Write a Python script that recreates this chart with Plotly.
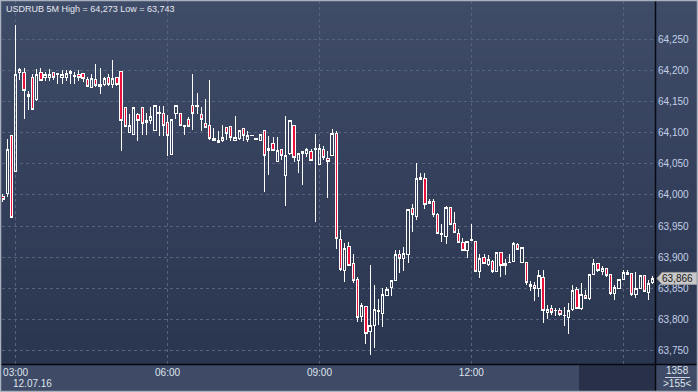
import pandas as pd
import plotly.graph_objects as go

# ---------------- data (USDRUB, 5-minute candles, 12.07.16) ----------------
start_time = "2016-07-12 02:45"
bar_minutes = 5

opens = [63.997, 64.003, 64.096, 64.037, 64.197, 64.197, 64.158, 64.189, 64.153, 64.197,
         64.188, 64.188, 64.197, 64.194, 64.188, 64.188, 64.199, 64.191, 64.194, 64.195,
         64.185, 64.172, 64.185, 64.174, 64.178, 64.189, 64.177, 64.189, 64.199, 64.141,
         64.101, 64.097, 64.130, 64.141, 64.116, 64.119, 64.103, 64.131, 64.131, 64.117,
         64.065, 64.131, 64.131, 64.110, 64.122, 64.143, 64.142, 64.130, 64.114, 64.111,
         64.087, 64.088, 64.087, 64.109, 64.110, 64.088, 64.091, 64.106, 64.089, 64.095,
         64.089, 64.087, 64.103, 64.072, 64.083, 64.053, 64.073, 64.031, 64.067, 64.111,
         64.055, 64.067, 64.067, 64.070, 64.073, 64.049, 64.073, 64.059, 64.063, 64.098,
         63.929, 63.878, 63.917, 63.890, 63.865, 63.805, 63.821, 63.780, 63.790, 63.813,
         63.810, 63.839, 63.851, 63.862, 63.905, 63.898, 63.905, 63.979, 63.965, 64.025,
         64.027, 63.987, 63.990, 63.969, 63.936, 63.934, 63.980, 63.955, 63.938, 63.924,
         63.911, 63.927, 63.926, 63.877, 63.900, 63.888, 63.893, 63.877, 63.908, 63.886,
         63.891, 63.893, 63.921, 63.891, 63.891, 63.853, 63.854, 63.850, 63.868, 63.812,
         63.818, 63.814, 63.815, 63.806, 63.804, 63.816, 63.849, 63.818, 63.839, 63.833,
         63.873, 63.890, 63.877, 63.882, 63.873, 63.842, 63.850, 63.864, 63.876, 63.874,
         63.841, 63.850, 63.870, 63.844, 63.859]
highs = [64.001, 64.090, 64.097, 64.273, 64.204, 64.204, 64.167, 64.194, 64.203, 64.204,
         64.197, 64.203, 64.197, 64.196, 64.201, 64.200, 64.200, 64.198, 64.201, 64.195,
         64.189, 64.195, 64.210, 64.204, 64.189, 64.195, 64.217, 64.189, 64.199, 64.141,
         64.130, 64.141, 64.132, 64.141, 64.131, 64.141, 64.143, 64.143, 64.143, 64.128,
         64.122, 64.143, 64.131, 64.112, 64.126, 64.194, 64.163, 64.141, 64.154, 64.185,
         64.107, 64.103, 64.112, 64.109, 64.111, 64.127, 64.105, 64.106, 64.102, 64.096,
         64.090, 64.097, 64.103, 64.095, 64.093, 64.093, 64.073, 64.127, 64.119, 64.111,
         64.068, 64.071, 64.076, 64.074, 64.098, 64.082, 64.079, 64.070, 64.106, 64.103,
         63.944, 63.923, 63.924, 63.905, 63.869, 63.827, 63.821, 63.888, 63.855, 63.833,
         63.850, 63.853, 63.864, 63.911, 63.912, 63.916, 63.977, 63.986, 64.052, 64.036,
         64.036, 63.993, 63.993, 63.971, 63.953, 63.982, 63.980, 63.972, 63.945, 63.931,
         63.926, 63.953, 63.926, 63.906, 63.906, 63.904, 63.896, 63.909, 63.908, 63.897,
         63.905, 63.924, 63.923, 63.917, 63.891, 63.862, 63.861, 63.880, 63.880, 63.823,
         63.823, 63.818, 63.818, 63.820, 63.826, 63.855, 63.853, 63.858, 63.847, 63.872,
         63.897, 63.890, 63.886, 63.882, 63.873, 63.855, 63.864, 63.880, 63.880, 63.874,
         63.877, 63.870, 63.870, 63.864, 63.870]
lows = [63.989, 63.997, 63.963, 64.037, 64.185, 64.122, 64.136, 64.138, 64.151, 64.184,
        64.183, 64.183, 64.184, 64.179, 64.179, 64.183, 64.179, 64.179, 64.183, 64.181,
        64.174, 64.172, 64.174, 64.162, 64.175, 64.175, 64.172, 64.175, 64.071, 64.110,
        64.101, 64.097, 64.087, 64.097, 64.097, 64.114, 64.102, 64.094, 64.094, 64.063,
        64.065, 64.122, 64.111, 64.096, 64.110, 64.104, 64.130, 64.102, 64.109, 64.088,
        64.086, 64.085, 64.085, 64.088, 64.086, 64.086, 64.089, 64.086, 64.085, 64.094,
        64.089, 64.087, 64.005, 64.032, 64.072, 64.053, 64.056, 63.983, 64.064, 64.053,
        64.035, 64.016, 64.061, 64.056, 63.957, 64.049, 64.056, 63.995, 64.063, 63.913,
        63.878, 63.861, 63.886, 63.858, 63.796, 63.796, 63.760, 63.743, 63.755, 63.791,
        63.788, 63.837, 63.837, 63.862, 63.874, 63.878, 63.890, 63.940, 63.960, 64.024,
        63.977, 63.985, 63.965, 63.937, 63.924, 63.922, 63.952, 63.939, 63.923, 63.910,
        63.899, 63.926, 63.876, 63.867, 63.889, 63.886, 63.874, 63.876, 63.869, 63.872,
        63.890, 63.892, 63.912, 63.890, 63.855, 63.846, 63.829, 63.836, 63.795, 63.801,
        63.807, 63.805, 63.806, 63.790, 63.777, 63.814, 63.817, 63.816, 63.833, 63.831,
        63.872, 63.877, 63.872, 63.869, 63.839, 63.831, 63.849, 63.863, 63.871, 63.837,
        63.834, 63.849, 63.844, 63.831, 63.857]
closes = [63.993, 64.073, 63.964, 64.194, 64.201, 64.167, 64.161, 64.138, 64.194, 64.184,
          64.194, 64.194, 64.189, 64.195, 64.194, 64.195, 64.195, 64.192, 64.188, 64.187,
          64.174, 64.187, 64.176, 64.178, 64.187, 64.178, 64.187, 64.178, 64.120, 64.110,
          64.111, 64.141, 64.119, 64.114, 64.119, 64.126, 64.143, 64.132, 64.111, 64.095,
          64.122, 64.143, 64.111, 64.111, 64.110, 64.131, 64.143, 64.122, 64.109, 64.091,
          64.090, 64.085, 64.093, 64.098, 64.093, 64.093, 64.103, 64.095, 64.096, 64.096,
          64.090, 64.097, 64.063, 64.075, 64.072, 64.072, 64.064, 64.064, 64.119, 64.061,
          64.067, 64.070, 64.073, 64.056, 64.075, 64.075, 64.061, 64.053, 64.098, 63.930,
          63.880, 63.914, 63.886, 63.862, 63.804, 63.822, 63.777, 63.791, 63.816, 63.815,
          63.841, 63.849, 63.862, 63.904, 63.898, 63.906, 63.977, 63.968, 64.027, 64.028,
          63.985, 63.989, 63.969, 63.938, 63.938, 63.980, 63.953, 63.940, 63.924, 63.911,
          63.926, 63.929, 63.877, 63.898, 63.890, 63.896, 63.877, 63.908, 63.886, 63.890,
          63.892, 63.922, 63.913, 63.915, 63.859, 63.857, 63.850, 63.870, 63.814, 63.816,
          63.811, 63.815, 63.808, 63.807, 63.815, 63.847, 63.818, 63.841, 63.834, 63.872,
          63.890, 63.878, 63.882, 63.870, 63.842, 63.851, 63.864, 63.875, 63.872, 63.841,
          63.850, 63.870, 63.845, 63.858, 63.866]

price_ticks = [63.75, 63.80, 63.85, 63.90, 63.95, 64.00, 64.05, 64.10, 64.15, 64.20, 64.25]
time_ticks = ["2016-07-12 03:00", "2016-07-12 06:00", "2016-07-12 09:00",
              "2016-07-12 12:00", "2016-07-12 15:00"]
time_tick_labels = ["03:00", "06:00", "09:00", "12:00",
                    "<span style='color:#6f7b93'>15:00</span>"]
date_label = "12.07.16"
title_text = "USDRUB 5M High = 64,273 Low = 63,743"
last_price_text = "63,866"
last_price = closes[-1]
bar_count_text = "1358"
visible_bars_text = ">155<"

times = pd.date_range(start_time, periods=len(opens), freq=f"{bar_minutes}min")

# ---------------- geometry ----------------
W, H = 698, 392
ML, MR, MT, MB = 2, 43, 1, 28
PW, PH = W - ML - MR, H - MT - MB
Y_LO, Y_HI = 63.7286, 64.3115


def px(x):
    return (x - ML) / PW


def py(y):
    return (MT + PH - y) / PH


fig = go.Figure(go.Candlestick(
    x=times, open=opens, high=highs, low=lows, close=closes,
    increasing=dict(line=dict(color="#ffffff", width=1), fillcolor="rgba(0,0,0,0)"),
    decreasing=dict(line=dict(color="#ffffff", width=1), fillcolor="#e8123c"),
    whiskerwidth=0, hoverinfo="skip", showlegend=False,
))

shapes = []
# vertical gradient background for plot + right price panel
top_c = (63, 76, 104)
bot_c = (42, 53, 79)
n_bands = 60
for k in range(n_bands):
    t = k / (n_bands - 1)
    c = tuple(round(top_c[j] + (bot_c[j] - top_c[j]) * t) for j in range(3))
    y0 = MT + PH * k / n_bands
    y1 = MT + PH * (k + 1) / n_bands + 0.6
    shapes.append(dict(type="rect", xref="paper", yref="paper", layer="below",
                       x0=px(0), x1=px(W), y0=py(y1), y1=py(y0),
                       fillcolor="rgb(%d,%d,%d)" % c, line=dict(width=0)))
# dark region in time bar
shapes.append(dict(type="rect", xref="paper", yref="paper", layer="above",
                   x0=px(579), x1=px(655), y0=py(H), y1=py(365),
                   fillcolor="#283149", line=dict(width=0)))
# black separators
shapes.append(dict(type="line", xref="paper", yref="paper", layer="above",
                   x0=px(655.5), x1=px(655.5), y0=py(H), y1=py(0),
                   line=dict(color="#070a10", width=1.5)))
shapes.append(dict(type="line", xref="paper", yref="paper", layer="above",
                   x0=px(0), x1=px(W), y0=py(364.5), y1=py(364.5),
                   line=dict(color="#070a10", width=1.5)))
# small separator line in the bar-count box
shapes.append(dict(type="line", xref="paper", yref="paper", layer="above",
                   x0=px(665), x1=px(690), y0=py(377.5), y1=py(377.5),
                   line=dict(color="#c9d3e3", width=1)))
# last price marker (pointed label)
yy = MT + PH * (1 - (last_price - Y_LO) / (Y_HI - Y_LO))
path = "M %f,%f L %f,%f L %f,%f L %f,%f L %f,%f Z" % (
    px(657), py(yy), px(662), py(yy - 6), px(697), py(yy - 6),
    px(697), py(yy + 6), px(662), py(yy + 6))
shapes.append(dict(type="path", xref="paper", yref="paper", layer="above",
                   path=path, fillcolor="#c8c8c8", line=dict(color="#9a9a9a", width=1)))
# outer frame
shapes.append(dict(type="rect", xref="paper", yref="paper", layer="above",
                   x0=px(0.5), x1=px(W - 0.5), y0=py(H - 0.5), y1=py(0.5),
                   line=dict(color="#a9b1bf", width=1.5)))

font_axis = "Liberation Sans, Arial, sans-serif"

annotations = [
    dict(text=title_text, xref="paper", yref="paper", x=px(4), y=py(8.5),
         xanchor="left", yanchor="middle", showarrow=False,
         font=dict(family=font_axis, size=9.0, color="#e3e8f0")),
    dict(text=date_label, xref="paper", yref="paper", x=px(11), y=py(383),
         xanchor="left", yanchor="middle", showarrow=False,
         font=dict(family=font_axis, size=10, color="#dfe5ee")),
    dict(text=bar_count_text, xref="paper", yref="paper", x=px(677), y=py(370.5),
         xanchor="center", yanchor="middle", showarrow=False,
         font=dict(family=font_axis, size=10, color="#dfe5ee")),
    dict(text=visible_bars_text, xref="paper", yref="paper", x=px(677), y=py(383.5),
         xanchor="center", yanchor="middle", showarrow=False,
         font=dict(family=font_axis, size=10, color="#dfe5ee")),
    dict(text=last_price_text, xref="paper", yref="y", x=px(660), y=last_price,
         xanchor="left", yanchor="middle", showarrow=False,
         font=dict(family=font_axis, size=10, color="#1a1a1a")),
]

x_left = pd.Timestamp("2016-07-12 03:00") - pd.Timedelta(minutes=(15.6 - ML) / 0.844)
x_right = pd.Timestamp("2016-07-12 03:00") + pd.Timedelta(minutes=(W - MR - 15.6) / 0.844)

fig.update_layout(
    width=W, height=H,
    margin=dict(l=ML, r=MR, t=MT, b=MB, pad=0),
    paper_bgcolor="#3e4a66",
    plot_bgcolor="rgba(0,0,0,0)",
    separators=", ",
    showlegend=False,
    boxgap=0.22,
    shapes=shapes,
    annotations=annotations,
    xaxis=dict(
        type="date", range=[x_left, x_right], rangeslider=dict(visible=False),
        tickmode="array", tickvals=time_ticks, ticktext=time_tick_labels,
        showgrid=True, gridcolor="#56627e", griddash="3px,3px", gridwidth=1,
        zeroline=False, showline=False, ticks="",
        tickfont=dict(family=font_axis, size=10, color="#dfe5ee"),
        ticklabelstandoff=1,
    ),
    yaxis=dict(
        side="right", range=[Y_LO, Y_HI],
        tickmode="array", tickvals=price_ticks, tickformat=".3f",
        showgrid=True, gridcolor="#56627e", griddash="3px,3px", gridwidth=1,
        zeroline=False, showline=False, ticks="",
        tickfont=dict(family=font_axis, size=10, color="#c3d0e8"),
        ticklabelstandoff=2,
    ),
)

post = """
document.body.style.margin='0';
document.querySelectorAll('g.trace path').forEach(function(p){
  p.style.shapeRendering='crispEdges';
});
"""
fig.write_html("out.html", config={"displayModeBar": False}, post_script=post)
